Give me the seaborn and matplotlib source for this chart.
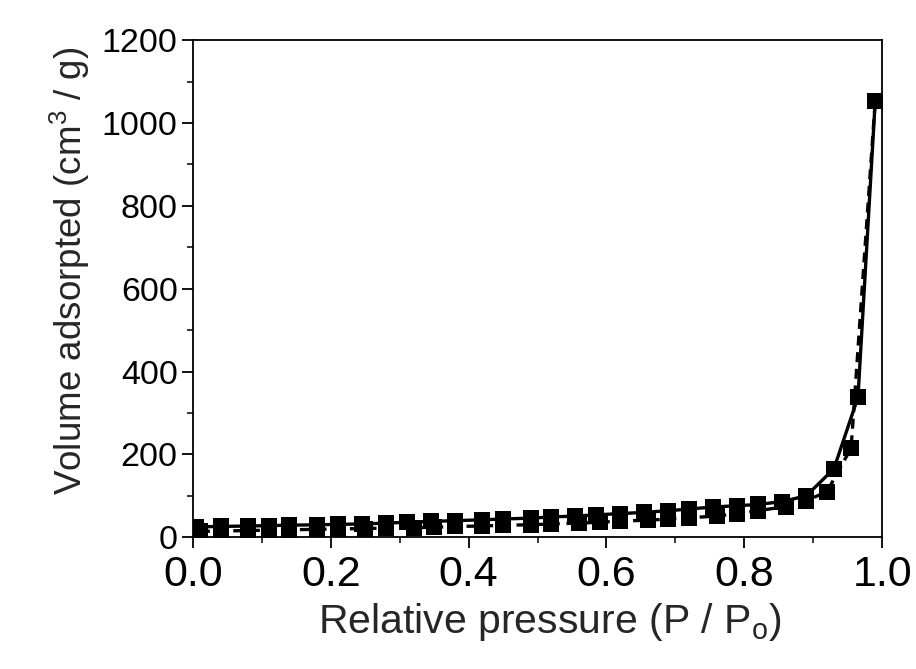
import numpy as np
import pandas as pd
import matplotlib
matplotlib.use("Agg")
import matplotlib.pyplot as plt
import seaborn as sns
from matplotlib.ticker import MultipleLocator

# Adsorption branch (lower points, dashed line)
ads_x = [0.01, 0.04, 0.08, 0.11, 0.14, 0.18, 0.21, 0.25, 0.28, 0.32, 0.35, 0.38, 0.42,
         0.45, 0.49, 0.52, 0.56, 0.59, 0.62, 0.66, 0.69, 0.72, 0.76, 0.79, 0.82, 0.86,
         0.89, 0.92, 0.955, 0.99]
ads_y = [14, 15, 16, 17, 18, 19, 20, 21, 22, 23, 24, 26, 27, 29, 30, 32, 34, 36, 39, 41,
         44, 47, 51, 57, 64, 74, 88, 110, 215, 1053]

# Desorption branch (upper points, solid line)
des_x = [0.99, 0.965, 0.93, 0.89, 0.855, 0.82, 0.79, 0.755, 0.72, 0.69, 0.655, 0.62,
         0.585, 0.555, 0.52, 0.49, 0.45, 0.42, 0.38, 0.345, 0.31, 0.28, 0.245, 0.21,
         0.18, 0.14, 0.11, 0.08, 0.04, 0.005]
des_y = [1053, 338, 165, 100, 86, 79, 76, 73, 68, 64, 60, 57, 54, 51, 49, 46, 44, 42,
         40, 38, 36, 34, 32, 31, 30, 29, 28, 27, 26, 25]

x_ticks = [0, 0.2, 0.4, 0.6, 0.8, 1.0]
x_tick_labels = ["0.0", "0.2", "0.4", "0.6", "0.8", "1.0"]

sns.set_style("ticks")
plt.rcParams['font.family'] = ['Liberation Sans', 'DejaVu Sans']
plt.rcParams['mathtext.fontset'] = 'custom'
plt.rcParams['mathtext.rm'] = 'Liberation Sans'
plt.rcParams['mathtext.it'] = 'Liberation Sans'

fig = plt.figure(figsize=(9.16, 6.69), dpi=100)
ax = fig.add_axes([0.2107, 0.197, 0.963 - 0.2107, 0.940 - 0.197])

ads = pd.DataFrame({"x": ads_x, "y": ads_y})
des = pd.DataFrame({"x": des_x, "y": des_y})

sns.lineplot(data=ads, x="x", y="y", ax=ax, sort=False, estimator=None, color="black",
             linestyle=(0, (3, 2)), linewidth=2.4, marker="s", markersize=11.5,
             markeredgewidth=0, markerfacecolor="black")
sns.lineplot(data=des, x="x", y="y", ax=ax, sort=False, estimator=None, color="black",
             linestyle="-", linewidth=2.4, marker="s", markersize=11.5,
             markeredgewidth=0, markerfacecolor="black")

ax.set_xlim(0, 1.0)
ax.set_ylim(0, 1200)
ax.xaxis.set_minor_locator(MultipleLocator(0.1))
ax.yaxis.set_major_locator(MultipleLocator(200))
ax.yaxis.set_minor_locator(MultipleLocator(100))
ax.set_xticks(x_ticks)
ax.set_xticklabels(x_tick_labels)

ax.tick_params(axis="both", which="major", direction="out", length=8, width=1.3,
               colors="black")
ax.tick_params(axis="x", which="major", labelsize=31, pad=5)
ax.tick_params(axis="y", which="major", labelsize=24.5, pad=3)
ax.tick_params(axis="both", which="minor", direction="out", length=4.5, width=1.3)
ax.tick_params(top=False, right=False, which="both")

for sp in ax.spines.values():
    sp.set_visible(True)
    sp.set_linewidth(1.3)
    sp.set_color("black")

ax.set_xlabel("Relative pressure (P / P$_\\mathregular{o}$)", fontsize=29.5, labelpad=10)
ax.set_ylabel("Volume adsorpted (cm$^\\mathregular{3}$ / g)", fontsize=26.5, labelpad=6)
ax.xaxis.set_label_coords(0.518, -0.128)
ax.yaxis.set_label_coords(-0.147, 0.535)

fig.savefig("out.png", dpi=100, facecolor="white")
